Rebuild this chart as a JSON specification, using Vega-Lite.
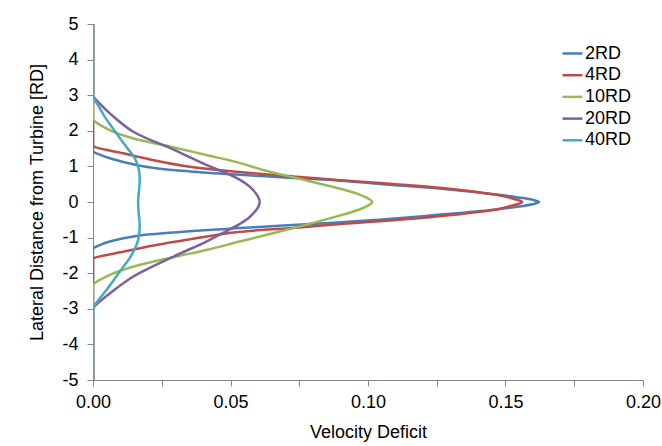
{
  "$schema": "https://vega.github.io/schema/vega-lite/v6.json",
  "width": 550,
  "height": 356,
  "autosize": {"type": "none"},
  "padding": {"left": 93, "top": 24, "right": 19, "bottom": 66},
  "background": "white",
  "config": {
    "view": {"stroke": null},
    "font": "Liberation Sans",
    "axis": {
      "domainColor": "#868686",
      "tickColor": "#868686",
      "tickSize": 6,
      "labelColor": "#000000",
      "titleColor": "#000000",
      "labelFont": "Liberation Sans",
      "titleFont": "Liberation Sans",
      "labelFontSize": 18,
      "titleFontSize": 18,
      "titleFontWeight": "normal",
      "labelFlush": false,
      "grid": false
    }
  },
  "data": {
    "values": [
      {"s": "2RD", "x": 0, "y": 5},
      {"s": "2RD", "x": 0, "y": 1.46},
      {"s": "2RD", "x": 0, "y": 1.42},
      {"s": "2RD", "x": 0.0025, "y": 1.33},
      {"s": "2RD", "x": 0.0061, "y": 1.23},
      {"s": "2RD", "x": 0.0158, "y": 1.04},
      {"s": "2RD", "x": 0.023, "y": 0.95},
      {"s": "2RD", "x": 0.0352, "y": 0.86},
      {"s": "2RD", "x": 0.052, "y": 0.77},
      {"s": "2RD", "x": 0.074, "y": 0.67},
      {"s": "2RD", "x": 0.09, "y": 0.6},
      {"s": "2RD", "x": 0.105, "y": 0.5},
      {"s": "2RD", "x": 0.1285, "y": 0.36},
      {"s": "2RD", "x": 0.1467, "y": 0.21},
      {"s": "2RD", "x": 0.1564, "y": 0.11},
      {"s": "2RD", "x": 0.1605, "y": 0.05},
      {"s": "2RD", "x": 0.1622, "y": 0},
      {"s": "2RD", "x": 0.1605, "y": -0.05},
      {"s": "2RD", "x": 0.1564, "y": -0.11},
      {"s": "2RD", "x": 0.1467, "y": -0.21},
      {"s": "2RD", "x": 0.1285, "y": -0.34},
      {"s": "2RD", "x": 0.105, "y": -0.49},
      {"s": "2RD", "x": 0.09, "y": -0.57},
      {"s": "2RD", "x": 0.074, "y": -0.64},
      {"s": "2RD", "x": 0.052, "y": -0.74},
      {"s": "2RD", "x": 0.0291, "y": -0.86},
      {"s": "2RD", "x": 0.0158, "y": -0.955},
      {"s": "2RD", "x": 0.0061, "y": -1.11},
      {"s": "2RD", "x": 0.0025, "y": -1.21},
      {"s": "2RD", "x": 0, "y": -1.31},
      {"s": "2RD", "x": 0, "y": -1.35},
      {"s": "2RD", "x": 0, "y": -5},

      {"s": "4RD", "x": 0, "y": 5},
      {"s": "4RD", "x": 0, "y": 1.61},
      {"s": "4RD", "x": 0, "y": 1.57},
      {"s": "4RD", "x": 0.0109, "y": 1.37},
      {"s": "4RD", "x": 0.023, "y": 1.16},
      {"s": "4RD", "x": 0.0352, "y": 0.99},
      {"s": "4RD", "x": 0.052, "y": 0.85},
      {"s": "4RD", "x": 0.074, "y": 0.71},
      {"s": "4RD", "x": 0.09, "y": 0.61},
      {"s": "4RD", "x": 0.108, "y": 0.51},
      {"s": "4RD", "x": 0.1285, "y": 0.38},
      {"s": "4RD", "x": 0.1467, "y": 0.2},
      {"s": "4RD", "x": 0.1525, "y": 0.1},
      {"s": "4RD", "x": 0.1561, "y": 0},
      {"s": "4RD", "x": 0.1525, "y": -0.1},
      {"s": "4RD", "x": 0.1467, "y": -0.21},
      {"s": "4RD", "x": 0.1285, "y": -0.38},
      {"s": "4RD", "x": 0.108, "y": -0.52},
      {"s": "4RD", "x": 0.09, "y": -0.62},
      {"s": "4RD", "x": 0.074, "y": -0.72},
      {"s": "4RD", "x": 0.052, "y": -0.85},
      {"s": "4RD", "x": 0.0352, "y": -1.05},
      {"s": "4RD", "x": 0.023, "y": -1.21},
      {"s": "4RD", "x": 0.0109, "y": -1.4},
      {"s": "4RD", "x": 0, "y": -1.59},
      {"s": "4RD", "x": 0, "y": -1.63},
      {"s": "4RD", "x": 0, "y": -5},

      {"s": "10RD", "x": 0, "y": 5},
      {"s": "10RD", "x": 0, "y": 2.36},
      {"s": "10RD", "x": 0, "y": 2.32},
      {"s": "10RD", "x": 0.0061, "y": 2.02},
      {"s": "10RD", "x": 0.0145, "y": 1.79},
      {"s": "10RD", "x": 0.0291, "y": 1.54},
      {"s": "10RD", "x": 0.0412, "y": 1.32},
      {"s": "10RD", "x": 0.0533, "y": 1.1},
      {"s": "10RD", "x": 0.0618, "y": 0.9},
      {"s": "10RD", "x": 0.074, "y": 0.67},
      {"s": "10RD", "x": 0.086, "y": 0.45},
      {"s": "10RD", "x": 0.0958, "y": 0.24},
      {"s": "10RD", "x": 0.1, "y": 0.1},
      {"s": "10RD", "x": 0.1016, "y": 0},
      {"s": "10RD", "x": 0.1, "y": -0.1},
      {"s": "10RD", "x": 0.0958, "y": -0.24},
      {"s": "10RD", "x": 0.086, "y": -0.46},
      {"s": "10RD", "x": 0.074, "y": -0.71},
      {"s": "10RD", "x": 0.0618, "y": -0.95},
      {"s": "10RD", "x": 0.0533, "y": -1.11},
      {"s": "10RD", "x": 0.0412, "y": -1.35},
      {"s": "10RD", "x": 0.0291, "y": -1.55},
      {"s": "10RD", "x": 0.0145, "y": -1.82},
      {"s": "10RD", "x": 0.0061, "y": -2.05},
      {"s": "10RD", "x": 0, "y": -2.33},
      {"s": "10RD", "x": 0, "y": -2.37},
      {"s": "10RD", "x": 0, "y": -5},

      {"s": "20RD", "x": 0, "y": 5},
      {"s": "20RD", "x": 0, "y": 3.02},
      {"s": "20RD", "x": 0, "y": 2.98},
      {"s": "20RD", "x": 0.0024, "y": 2.77},
      {"s": "20RD", "x": 0.0061, "y": 2.49},
      {"s": "20RD", "x": 0.0145, "y": 1.98},
      {"s": "20RD", "x": 0.0291, "y": 1.48},
      {"s": "20RD", "x": 0.0412, "y": 1.04},
      {"s": "20RD", "x": 0.0497, "y": 0.77},
      {"s": "20RD", "x": 0.0533, "y": 0.63},
      {"s": "20RD", "x": 0.057, "y": 0.43},
      {"s": "20RD", "x": 0.06, "y": 0.15},
      {"s": "20RD", "x": 0.0606, "y": 0},
      {"s": "20RD", "x": 0.06, "y": -0.15},
      {"s": "20RD", "x": 0.057, "y": -0.42},
      {"s": "20RD", "x": 0.0533, "y": -0.62},
      {"s": "20RD", "x": 0.0497, "y": -0.77},
      {"s": "20RD", "x": 0.0412, "y": -1.11},
      {"s": "20RD", "x": 0.0291, "y": -1.54},
      {"s": "20RD", "x": 0.0145, "y": -2.1},
      {"s": "20RD", "x": 0.0061, "y": -2.57},
      {"s": "20RD", "x": 0.0024, "y": -2.8},
      {"s": "20RD", "x": 0, "y": -2.99},
      {"s": "20RD", "x": 0, "y": -3.03},
      {"s": "20RD", "x": 0, "y": -5},

      {"s": "40RD", "x": 0, "y": 5},
      {"s": "40RD", "x": 0, "y": 3.0},
      {"s": "40RD", "x": 0, "y": 2.96},
      {"s": "40RD", "x": 0.002, "y": 2.7},
      {"s": "40RD", "x": 0.00425, "y": 2.4},
      {"s": "40RD", "x": 0.0085, "y": 1.93},
      {"s": "40RD", "x": 0.0121, "y": 1.55},
      {"s": "40RD", "x": 0.0152, "y": 1.23},
      {"s": "40RD", "x": 0.0167, "y": 0.9},
      {"s": "40RD", "x": 0.017, "y": 0.6},
      {"s": "40RD", "x": 0.0167, "y": 0.3},
      {"s": "40RD", "x": 0.0164, "y": 0},
      {"s": "40RD", "x": 0.0166, "y": -0.3},
      {"s": "40RD", "x": 0.017, "y": -0.69},
      {"s": "40RD", "x": 0.0164, "y": -1.07},
      {"s": "40RD", "x": 0.014, "y": -1.49},
      {"s": "40RD", "x": 0.0097, "y": -1.96},
      {"s": "40RD", "x": 0.0049, "y": -2.47},
      {"s": "40RD", "x": 0.002, "y": -2.75},
      {"s": "40RD", "x": 0, "y": -2.97},
      {"s": "40RD", "x": 0, "y": -3.01},
      {"s": "40RD", "x": 0, "y": -5}
    ]
  },
  "mark": {"type": "line", "strokeWidth": 2.5, "interpolate": "catmull-rom", "clip": true},
  "encoding": {
    "x": {
      "field": "x",
      "type": "quantitative",
      "scale": {"domain": [0, 0.2], "nice": false, "zero": true},
      "axis": {
        "title": "Velocity Deficit",
        "values": [0, 0.025, 0.05, 0.075, 0.1, 0.125, 0.15, 0.175, 0.2],
        "labelExpr": "abs(datum.value * 20 - round(datum.value * 20)) < 0.001 ? format(datum.value, '.2f') : ''",
        "labelOverlap": false,
        "labelPadding": 7,
        "titlePadding": 12
      }
    },
    "y": {
      "field": "y",
      "type": "quantitative",
      "scale": {"domain": [-5, 5], "nice": false},
      "axis": {
        "title": "Lateral Distance from Turbine [RD]",
        "values": [-5, -4, -3, -2, -1, 0, 1, 2, 3, 4, 5],
        "labelExpr": "'' + datum.value",
        "labelPadding": 9,
        "titlePadding": 15
      }
    },
    "color": {
      "field": "s",
      "type": "nominal",
      "sort": ["2RD", "4RD", "10RD", "20RD", "40RD"],
      "scale": {
        "domain": ["2RD", "4RD", "10RD", "20RD", "40RD"],
        "range": ["#4A7EBB", "#BE4B48", "#98B954", "#7D60A0", "#46AAC5"]
      },
      "legend": {
        "title": null,
        "orient": "none",
        "legendX": 468,
        "legendY": 18,
        "padding": 0,
        "symbolType": "stroke",
        "symbolSize": 400,
        "symbolStrokeWidth": 2.5,
        "labelFontSize": 18,
        "labelColor": "#000000",
        "labelFont": "Liberation Sans",
        "labelOffset": 1,
        "rowPadding": 0.7
      }
    },
    "order": {"field": "y", "type": "quantitative", "sort": "descending"}
  }
}
